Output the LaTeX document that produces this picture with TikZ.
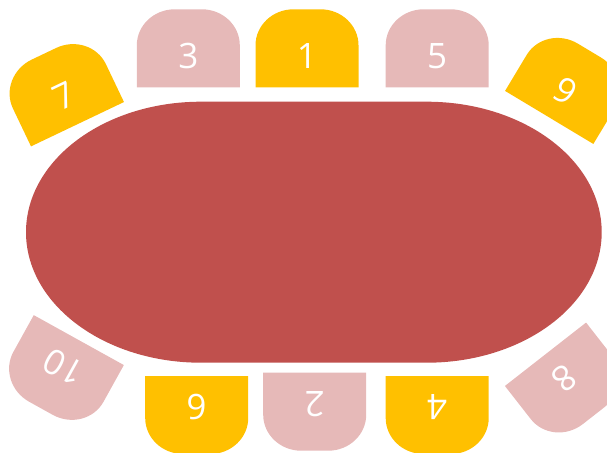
\documentclass[tikz,border=0pt]{standalone}
\usepackage{fontspec}
\setmainfont{Open Sans}
\definecolor{gold}{HTML}{FFC000}
\definecolor{rosy}{HTML}{E6B9B8}
\definecolor{tablered}{HTML}{C0504D}
\tikzset{
  chairlabel/.style={text=white, font=\fontsize{35}{40}\selectfont, inner sep=0pt, transform shape},
}
\newcommand{\chairat}[5]{% name, x, y, angle, colour ; label = name
  \begin{scope}[shift={(#2,#3)}, rotate=#4]
    \fill[#5] (-51.5,39) -- (-51.5,-3) arc[start angle=180, end angle=90, x radius=38pt, y radius=36pt]
      -- (13.5,-39) arc[start angle=90, end angle=0, x radius=38pt, y radius=36pt] -- (51.5,39) -- cycle;
    \node[chairlabel] (c#1) at (0,8) {#1};
  \end{scope}
}
\begin{document}
\begin{tikzpicture}[x=1pt, y=-1pt]
\useasboundingbox (0,0) rectangle (607,452);
% table
\fill[tablered] (201,101.7) -- (426.7,101.7)
  arc[start angle=90, end angle=-90, x radius=175pt, y radius=130.5pt]
  -- (201,362.7)
  arc[start angle=-90, end angle=-270, x radius=175pt, y radius=130.5pt] -- cycle;
\coordinate (table) at (313.9,232.2);
% top row
\chairat{3}{188.3}{48.3}{0}{rosy}
\chairat{1}{307}{48.3}{0}{gold}
\chairat{5}{437.2}{48.3}{0}{rosy}
% bottom row
\chairat{6}{196.7}{415}{180}{gold}
\chairat{2}{314.7}{411.7}{180}{rosy}
\chairat{4}{437.2}{415}{180}{gold}
% corners
\chairat{7}{60.7}{89}{25.5}{gold}
\chairat{9}{569.3}{84}{-31}{gold}
\chairat{10}{59.9}{374.2}{151}{rosy}
\chairat{8}{569.5}{385}{218}{rosy}
\end{tikzpicture}
\end{document}
